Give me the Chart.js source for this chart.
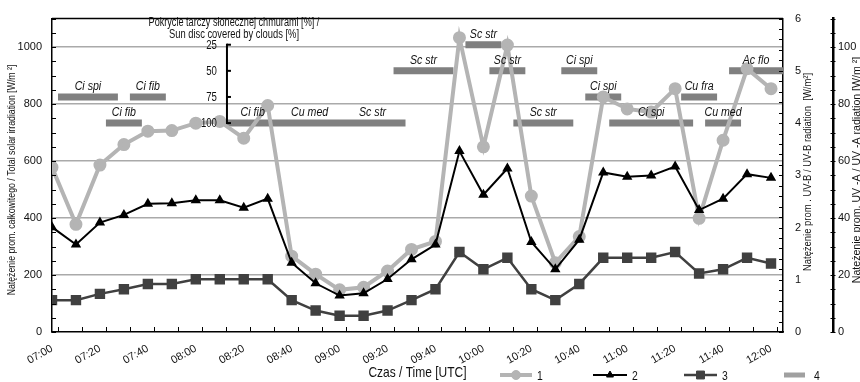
<!DOCTYPE html>
<html>
<head>
<meta charset="utf-8">
<script src="https://cdn.jsdelivr.net/npm/chart.js@4.4.1/dist/chart.umd.min.js"></script>
<style>
  html, body { margin: 0; padding: 0; background: #fff; }
</style>
</head>
<body>
<canvas id="chart" width="860" height="382"></canvas>
<script>
// pomiary co 10 min
const times = ['07:00', '07:10', '07:20', '07:30', '07:40', '07:50', '08:00', '08:10', '08:20', '08:30',
  '08:40', '08:50', '09:00', '09:10', '09:20', '09:30', '09:40', '09:50', '10:00', '10:10',
  '10:20', '10:30', '10:40', '10:50', '11:00', '11:10', '11:20', '11:30', '11:40', '11:50', '12:00'];

// 1 - total solar irradiation [W/m2]
const totalSolar = [578, 378, 586, 658, 705, 707, 733, 739, 680, 795,
  266, 203, 148, 157, 214, 290, 318, 1033, 650, 1007,
  477, 243, 335, 825, 783, 772, 854, 399, 673, 924, 854];

// 2 - UV-A [W/m2]
const uvA = [36.8, 30.7, 38.4, 41.1, 45.0, 45.2, 46.2, 46.2, 43.6, 46.8,
  24.3, 17.1, 12.8, 13.6, 18.6, 25.5, 30.7, 63.5, 48.2, 57.4,
  31.6, 22.0, 32.4, 56.0, 54.5, 54.9, 58.1, 42.8, 46.8, 55.4, 54.1];

// 3 - UV-B [W/m2]
const uvB = [0.61, 0.61, 0.73, 0.82, 0.92, 0.92, 1.01, 1.01, 1.01, 1.01,
  0.61, 0.41, 0.31, 0.31, 0.41, 0.61, 0.82, 1.53, 1.20, 1.42,
  0.82, 0.61, 0.92, 1.42, 1.42, 1.42, 1.53, 1.12, 1.20, 1.42, 1.31];

// 4 - chmury: rodzaj, od / do (minuty od 07:00), pokrycie tarczy [%]
const cloudNames = ['Ci spi', 'Ci fib', 'Ci fib', 'Ci fib', 'Cu med', 'Sc str', 'Sc str', 'Sc str',
  'Sc str', 'Sc str', 'Ci spi', 'Ci spi', 'Ci spi', 'Cu fra', 'Cu med', 'Ac flo'];
const cloudFrom = [2.5, 22.5, 32.5, 72.5, 95, 120, 142.5, 172.5, 182.5, 192.5, 212.5, 222.5, 232.5, 262.5, 272.5, 282.5];
const cloudTo = [27.5, 37.5, 47.5, 95, 120, 147.5, 167.5, 187.5, 197.5, 217.5, 227.5, 237.5, 267.5, 277.5, 287.5, 305];
const cloudCover = [75, 100, 75, 100, 100, 100, 50, 25, 50, 100, 50, 75, 100, 75, 100, 50];
const cloudTicks = [25, 50, 75, 100];

const FONT = '"Liberation Sans", Arial, sans-serif';
const NARROW = 0.8; // Arial Narrow w oryginale

function minutesOf(t) {
  const [h, m] = t.split(':').map(Number);
  return (h - 7) * 60 + m;
}
function clock(min) {
  const h = 7 + Math.floor(min / 60);
  const m = Math.round(min % 60);
  return String(h).padStart(2, '0') + ':' + String(m).padStart(2, '0');
}

const xs = times.map(minutesOf);
const pts = vals => vals.map((v, i) => ({ x: xs[i], y: v }));

const cloudPoints = [];
cloudNames.forEach((n, i) => {
  cloudPoints.push({ x: cloudFrom[i], y: cloudCover[i] });
  cloudPoints.push({ x: cloudTo[i], y: cloudCover[i] });
  cloudPoints.push({ x: cloudTo[i], y: null });
});

function line(ctx, x1, y1, x2, y2) {
  ctx.beginPath();
  ctx.moveTo(x1, y1);
  ctx.lineTo(x2, y2);
  ctx.stroke();
}
function narrowText(ctx, txt, x, y, rot, sx) {
  ctx.save();
  ctx.translate(x, y);
  if (rot) ctx.rotate(rot);
  ctx.scale(sx || NARROW, 1);
  ctx.fillText(txt, 0, 0);
  ctx.restore();
}

// ramka, drobne podzialki, os zachmurzenia, opisy
const decorations = {
  id: 'decorations',
  afterDatasetsDraw(chart) {
    const { ctx, chartArea: a, scales } = chart;
    const x = scales.x, y = scales.y, y1 = scales.y1, y2 = scales.y2, yc = scales.yc;
    ctx.save();
    ctx.strokeStyle = '#000';

    ctx.lineWidth = 1.5;
    line(ctx, a.left, a.top, a.right, a.top);

    ctx.lineWidth = 1;
    for (let v = 0; v <= 1100; v += 50) {
      const p = Math.round(y.getPixelForValue(v)) + 0.5;
      line(ctx, a.left, p, a.left + 4, p);
    }
    for (let m = 2.5; m < 305; m += 10) {
      const p = Math.round(x.getPixelForValue(m)) + 0.5;
      line(ctx, p, a.bottom, p, a.bottom - 5);
    }
    for (let v = 0; v <= 6.001; v += 0.2) {
      const p = Math.round(y1.getPixelForValue(v)) + 0.5;
      line(ctx, a.right - 4, p, a.right, p);
    }
    for (let v = 0; v <= 110; v += 5) {
      const p = Math.round(y2.getPixelForValue(v)) + 0.5;
      line(ctx, y2.left - 2.5, p, y2.left + 2.5, p);
    }

    // os pokrycia tarczy
    const xc = x.getPixelForValue(73);
    ctx.lineWidth = 2;
    line(ctx, xc, yc.getPixelForValue(24), xc, yc.getPixelForValue(100) + 1);
    ctx.fillStyle = '#111';
    ctx.font = '12px ' + FONT;
    ctx.textAlign = 'right';
    ctx.textBaseline = 'middle';
    cloudTicks.forEach(v => {
      const p = yc.getPixelForValue(v);
      line(ctx, xc, p, xc + 4, p);
      narrowText(ctx, String(v), xc - 10, p + 1);
    });
    ctx.textAlign = 'center';
    narrowText(ctx, 'Pokrycie tarczy słonecznej chmurami [%] /', xc + 7, 23, 0, 0.76);
    narrowText(ctx, 'Sun disc covered by clouds [%]', xc + 7, 35, 0, 0.78);

    // nazwy chmur
    ctx.font = 'italic 12.5px ' + FONT;
    ctx.textBaseline = 'bottom';
    cloudNames.forEach((n, i) => {
      const cx = x.getPixelForValue((cloudFrom[i] + cloudTo[i]) / 2);
      const cy = yc.getPixelForValue(cloudCover[i]);
      narrowText(ctx, n, cx, cy - 4, 0, 0.85);
    });

    // tytuly osi Y
    ctx.font = '11.5px ' + FONT;
    ctx.textBaseline = 'middle';
    narrowText(ctx, 'Natężenie prom. całkowitego / Total solar irradiation [W/m ²]', 12, 180, -Math.PI / 2, 0.76);
    narrowText(ctx, 'Natężenie prom . UV-B / UV-B radiation  [W/m²]', y1.left + 25, 172, -Math.PI / 2, 0.82);
    narrowText(ctx, 'Natężenie prom. UV -A / UV -A radiation [W/m ²]', y2.left + 24, 170, -Math.PI / 2, 0.92);

    // tytul osi X
    ctx.font = '15px ' + FONT;
    narrowText(ctx, 'Czas / Time [UTC]', (a.left + a.right) / 2, 373);

    // legenda
    const legendPos = [[500, 532], [593, 627], [684, 717], [784, 805]];
    ctx.font = '13px ' + FONT;
    ctx.textAlign = 'left';
    chart.data.datasets.forEach((ds, i) => {
      const [l, r] = legendPos[i];
      const ly = 375;
      ctx.strokeStyle = i === 3 ? '#a0a0a0' : ds.borderColor;
      ctx.lineWidth = i === 3 ? 5 : ds.borderWidth;
      ctx.lineCap = 'butt';
      line(ctx, l, ly, r, ly);
      if (ds.pointRadius > 0) {
        ctx.fillStyle = ds.borderColor;
        ctx.lineWidth = 1;
        Chart.helpers.drawPoint(ctx, { pointStyle: ds.pointStyle, radius: ds.pointRadius, rotation: 0, borderWidth: 1 }, (l + r) / 2, ly);
      }
      ctx.fillStyle = '#111';
      narrowText(ctx, ds.label, r + (i === 3 ? 9 : 5), ly + 1);
    });
    ctx.restore();
  }
};

new Chart(document.getElementById('chart'), {
  type: 'line',
  data: {
    datasets: [
      { label: '1', data: pts(totalSolar), yAxisID: 'y', borderColor: '#b4b4b4', backgroundColor: '#b4b4b4',
        borderWidth: 4, pointStyle: 'circle', pointRadius: 4.5, order: 2 },
      { label: '2', data: pts(uvA), yAxisID: 'y2', borderColor: '#000000', backgroundColor: '#000000',
        borderWidth: 2, pointStyle: 'triangle', pointRadius: 4, order: 0 },
      { label: '3', data: pts(uvB), yAxisID: 'y1', borderColor: '#404040', backgroundColor: '#404040',
        borderWidth: 2.5, pointStyle: 'rect', pointRadius: 5.6, order: 1 },
      { label: '4', data: cloudPoints, yAxisID: 'yc', borderColor: '#808080', backgroundColor: '#808080',
        borderWidth: 7, pointRadius: 0, borderCapStyle: 'butt', order: 3 }
    ]
  },
  options: {
    responsive: false,
    animation: false,
    devicePixelRatio: 1,
    events: [],
    layout: { padding: { top: 14, left: 0, right: 0, bottom: 0 } },
    plugins: { legend: { display: false }, tooltip: { enabled: false } },
    scales: {
      x: {
        type: 'linear', min: 0, max: 305,
        grid: { drawOnChartArea: false, drawTicks: false },
        border: { color: '#000', width: 1.5 },
        ticks: {
          stepSize: 20, includeBounds: false, minRotation: 30, maxRotation: 30, padding: 10,
          color: '#111', font: { family: FONT, size: 11 },
          callback: v => clock(v)
        },
        afterFit: s => { s.height = 50; }
      },
      y: {
        position: 'left', min: 0, max: 1100,
        grid: { color: c => c.tick.value === 0 ? 'rgba(0,0,0,0)' : '#aaaaaa', lineWidth: 1.5, drawTicks: false },
        border: { color: '#000', width: 1.5 },
        ticks: { stepSize: 200, includeBounds: false, padding: 10, color: '#111', font: { family: FONT, size: 11 },
          callback: v => String(v) },
        afterFit: s => { s.width = 52; }
      },
      y1: {
        position: 'right', weight: 0, min: 0, max: 6,
        grid: { drawOnChartArea: false, drawTicks: false },
        border: { color: '#000', width: 1.5 },
        ticks: { stepSize: 1, padding: 12, color: '#111', font: { family: FONT, size: 11 } },
        afterFit: s => { s.width = 50; }
      },
      y2: {
        position: 'right', weight: 1, min: 0, max: 110,
        grid: { drawOnChartArea: false, drawTicks: false },
        border: { color: '#000', width: 2.5 },
        ticks: { stepSize: 20, includeBounds: false, padding: 5, color: '#111', font: { family: FONT, size: 11 } },
        afterFit: s => { s.width = 27; }
      },
      yc: { display: false, reverse: true, min: 0, max: 300 }
    }
  },
  plugins: [decorations]
});
</script>
</body>
</html>
